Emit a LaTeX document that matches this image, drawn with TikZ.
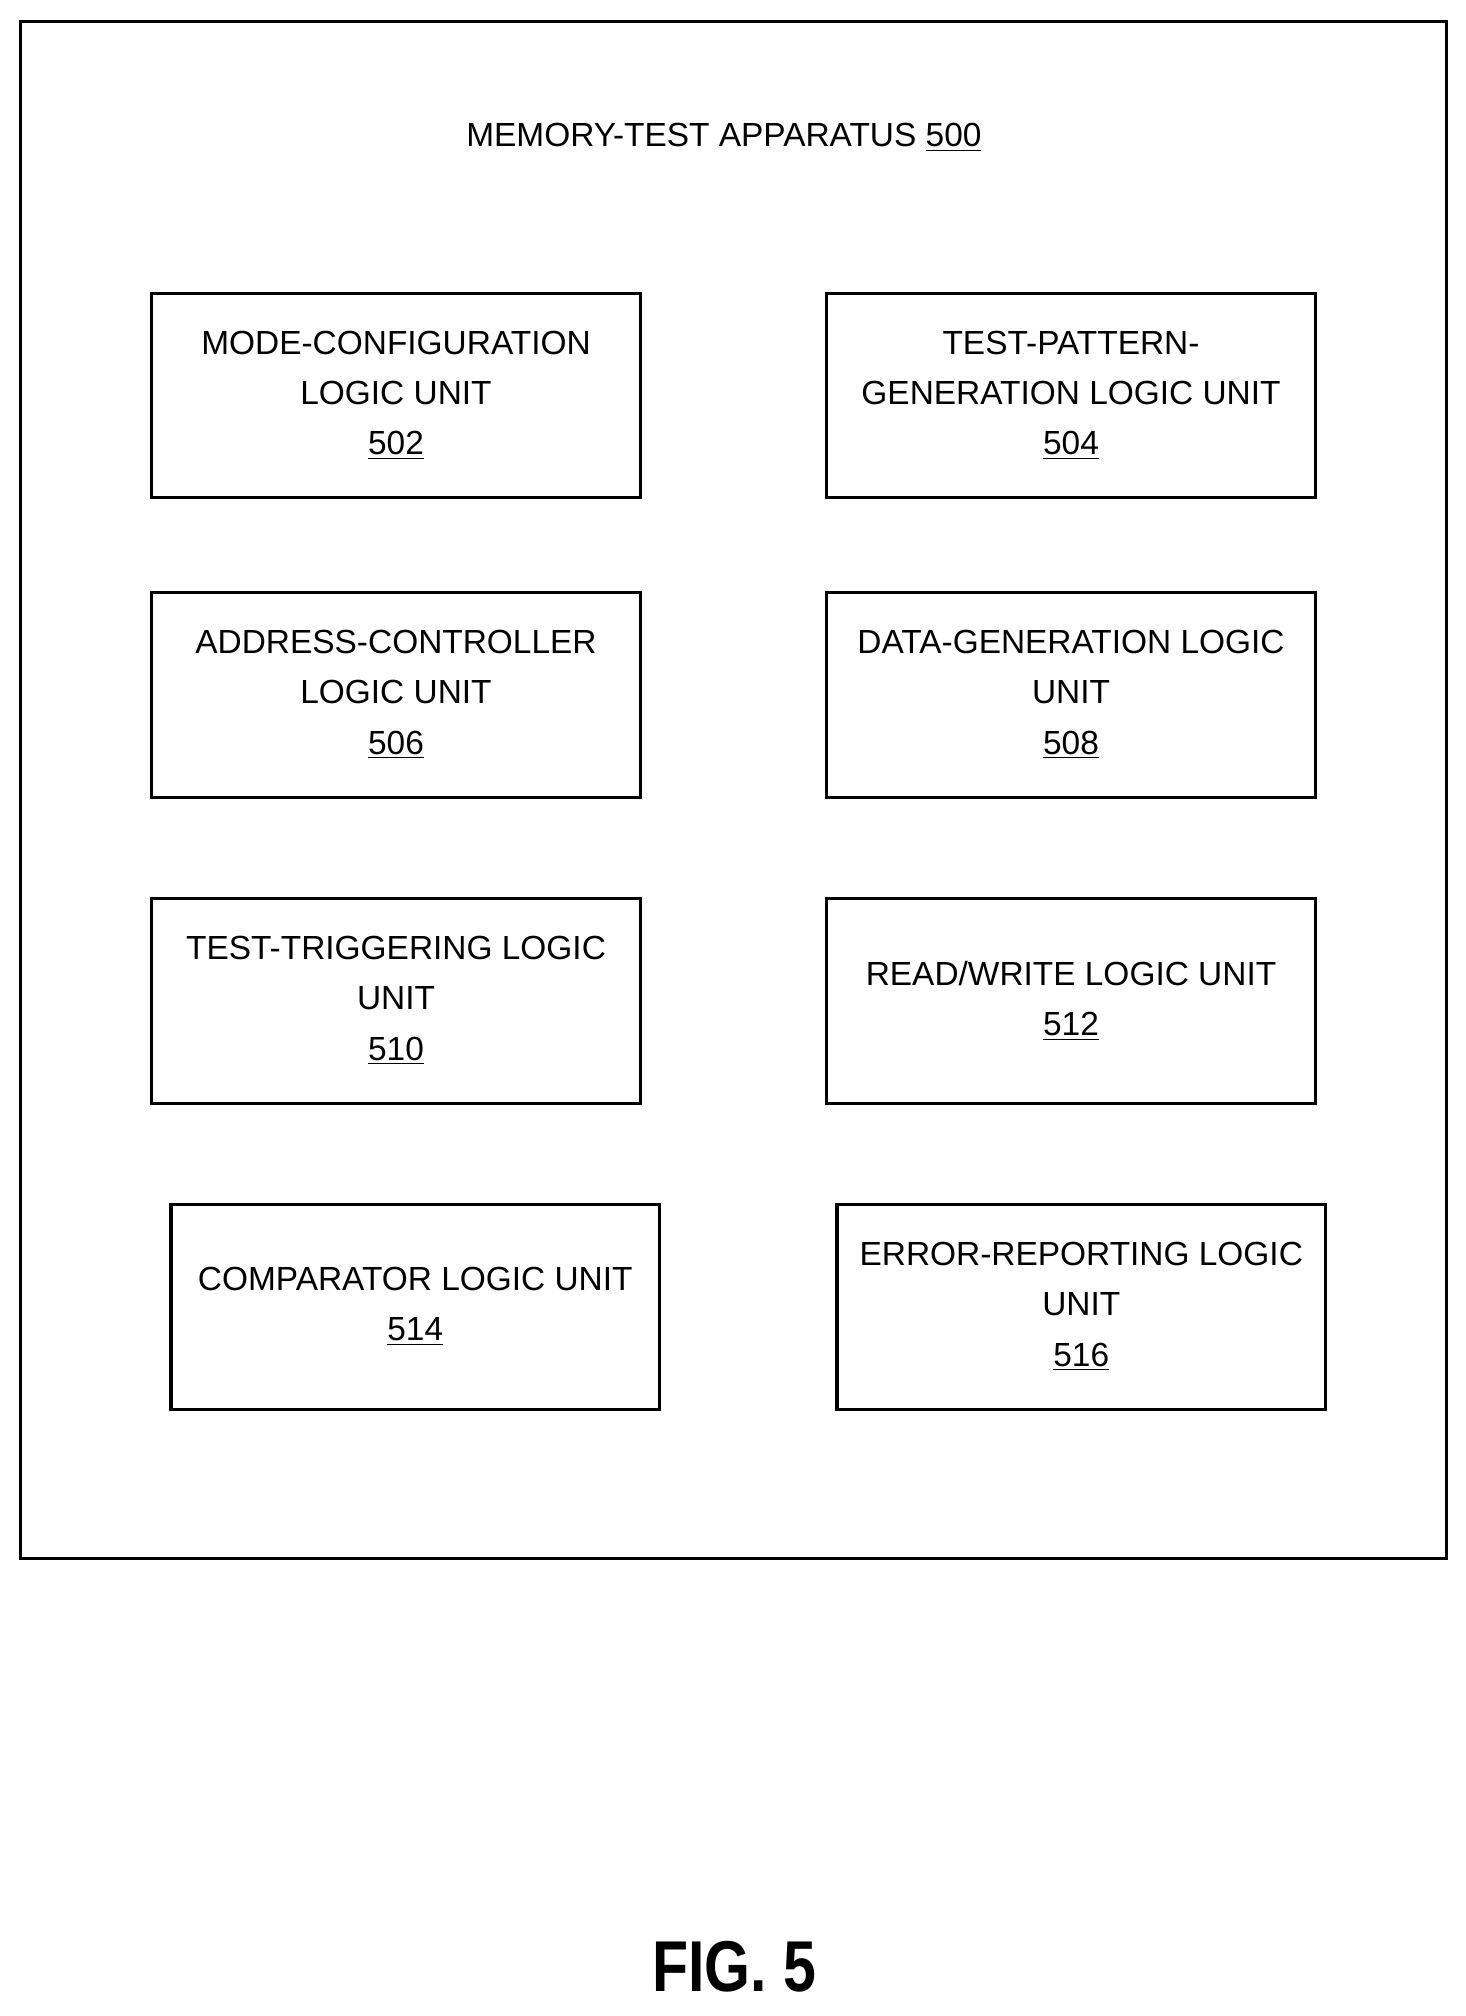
\documentclass[tikz,border=0pt]{standalone}
\usepackage{fontspec}
\setmainfont{Liberation Sans}
\usetikzlibrary{positioning}
\tikzset{unit/.style={rectangle, draw, line width=1.2pt, minimum width=190pt, minimum height=79.5pt, align=center, font=\fontsize{13}{19.5}\selectfont, inner sep=2pt}}
\begin{document}
\begin{tikzpicture}[x=0.5pt,y=-0.5pt]
        \useasboundingbox (0,0) rectangle (1140,1568);
        \node[rectangle, draw, line width=1.2pt, minimum width=554.5pt, minimum height=597.5pt] (apparatus) at (570.5,614.5) {};
        \node[font=\fontsize{13}{19.5}\selectfont] (title) at (563,107) {MEMORY-TEST APPARATUS \underline{500}};

        \node[unit] (modecfg) at (308,307.5) {MODE-CONFIGURATION\\LOGIC UNIT\\\underline{502}};
        \node[unit] (testpattern) at (833,307.5) {TEST-PATTERN-\\GENERATION LOGIC UNIT\\\underline{504}};

        \node[unit] (addrctrl) at (308,540.5) {ADDRESS-CONTROLLER\\LOGIC UNIT\\\underline{506}};
        \node[unit] (datagen) at (833,540.5) {DATA-GENERATION LOGIC\\UNIT\\\underline{508}};

        \node[unit] (trigger) at (308,778.5) {TEST-TRIGGERING LOGIC\\UNIT\\\underline{510}};
        \node[unit] (readwrite) at (833,778.5) {READ/WRITE LOGIC UNIT\\\underline{512}};

        \node[unit] (comparator) at (323,1016.5) {COMPARATOR LOGIC UNIT\\\underline{514}};
        \node[unit] (errreport) at (841,1016.5) {ERROR-REPORTING LOGIC\\UNIT\\\underline{516}};

        \node[font=\fontsize{28}{30}\bfseries, xscale=0.82] (fig) at (571,1530) {FIG. 5};
\end{tikzpicture}
\end{document}
